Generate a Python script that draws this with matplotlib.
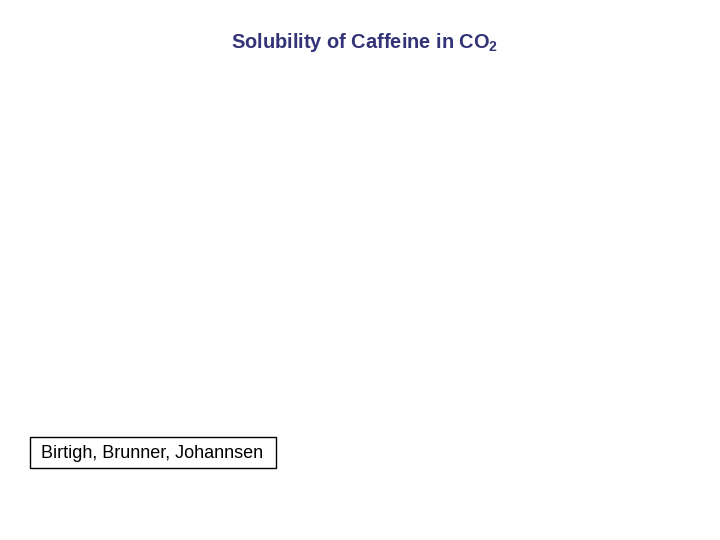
import matplotlib.pyplot as plt
from matplotlib.patches import Rectangle

# Texts shown on the slide (no data series are drawn in the reference)
title_text = "Solubility of Caffeine in CO$_2$"
source_text = "Birtigh, Brunner, Johannsen"

plt.rcParams['font.family'] = ['Liberation Sans', 'DejaVu Sans']
plt.rcParams['mathtext.default'] = 'regular'

fig = plt.figure(figsize=(7.2, 5.4), dpi=100)
fig.patch.set_facecolor("white")

fig.text(0.507, 0.922, title_text, ha="center", va="center",
         fontsize=14.4, fontweight="bold", color="#333377")

# source label in a plain black frame
fig.add_artist(Rectangle((30 / 720, 1 - 468 / 540), 246 / 720, 31 / 540,
                         transform=fig.transFigure, fill=False,
                         edgecolor="black", linewidth=1))
fig.text(41 / 720, 1 - 453 / 540, source_text, ha="left", va="center",
         fontsize=13, color="black")

plt.savefig("out.png", dpi=100)
